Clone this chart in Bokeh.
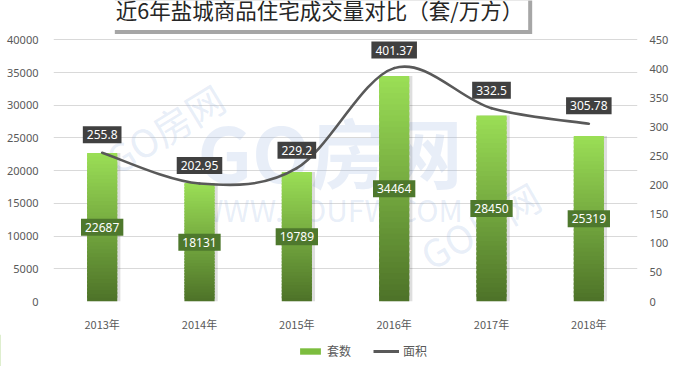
import numpy as np
from bokeh.plotting import figure
from bokeh.layouts import column
from bokeh.models import (Range1d, LinearAxis, FixedTicker, Label, Legend,
                          LegendItem, ColumnDataSource)
from bokeh.core.properties import value
from bokeh.embed import file_html
from bokeh.resources import INLINE

# ---- data ----
years = ["2013年", "2014年", "2015年", "2016年", "2017年", "2018年"]
units = [22687, 18131, 19789, 34464, 28450, 25319]          # 套数
area = [255.8, 202.95, 229.2, 401.37, 332.5, 305.78]         # 面积 (万方)
left_ticks = [0, 5000, 10000, 15000, 20000, 25000, 30000, 35000, 40000]
right_ticks = [0, 50, 100, 150, 200, 250, 300, 350, 400, 450]
title_text = "近6年盐城商品住宅成交量对比（套/万方）"
series_names = ["套数", "面积"]

n = len(years)
xc = np.arange(n) + 0.5

W = 680
H1 = 334               # main chart
H2 = 32                # legend strip
FRAME_H = 306          # frame runs from the very top down to the zero line
AXIS_H = 266           # pixel height of the 0..40000 span
ext_f = FRAME_H / AXIS_H

p = figure(width=W, height=H1, output_backend="svg", toolbar_location=None,
           x_range=Range1d(0, n),
           y_range=Range1d(0, left_ticks[-1] * ext_f),
           min_border_left=53, min_border_right=43, min_border_top=0,
           min_border_bottom=H1 - FRAME_H, background_fill_color="white",
           border_fill_color="white")
p.outline_line_color = None
p.extra_y_ranges = {"area": Range1d(0, right_ticks[-1] * ext_f)}

# axes
p.xaxis.ticker = FixedTicker(ticks=list(xc))
p.xaxis.major_label_overrides = {float(x): y for x, y in zip(xc, years)}
p.yaxis.ticker = FixedTicker(ticks=left_ticks)
raxis = LinearAxis(y_range_name="area", ticker=FixedTicker(ticks=right_ticks))
p.add_layout(raxis, "right")
for ax in p.axis:
    ax.axis_line_color = None
    ax.major_tick_line_color = None
    ax.minor_tick_line_color = None
    ax.major_label_text_color = "#595959"
    ax.major_label_text_font_size = "11px"
    ax.major_label_text_font = "Noto Sans"
p.xaxis.major_label_text_font = "Noto Sans CJK SC"
p.xaxis.major_label_standoff = 8
p.yaxis[0].major_label_standoff = 9
raxis.major_label_standoff = 6

p.xgrid.grid_line_color = None
p.ygrid.grid_line_color = "#d9d9d9"
p.ygrid.ticker = FixedTicker(ticks=left_ticks)

# watermark
wm = dict(text_align="center", text_baseline="middle", text_color="#9db8e0",
          text_alpha=0.24, text_font=value("Noto Sans CJK SC"))
p.text(x=[2.84], y=[23200], text=["GO房网"], text_font_size="76px",
       text_font_style="bold", **wm)
p.text(x=[2.84], y=[14100], text=["WWW.GOUFW.COM"], text_font_size="30px", **wm)
p.text(x=[1.14], y=[26500], text=["GO房网"], text_font_size="38px",
       angle=0.55, **wm)
p.text(x=[4.38], y=[11700], text=["GO房网"], text_font_size="38px",
       angle=0.52, **wm)

# bar shadows
bw = 0.31
p.vbar(x=xc + 0.032, bottom=0, top=units, width=bw, fill_color="#000000",
       fill_alpha=0.13, line_color=None)

# gradient bars built from overlapping slices
N = 40
light = np.array([0x9b, 0xdf, 0x56])
dark = np.array([0x4d, 0x72, 0x28])
bx, bb, bt, bc = [], [], [], []
for i, v in enumerate(units):
    for k in range(N):
        t = (k + 0.5) / N
        c = dark + (light - dark) * t
        bx.append(float(xc[i]))
        bb.append(v * k / N)
        bt.append(min(v, v * (k + 1.6) / N))
        bc.append("#%02x%02x%02x" % tuple(int(round(q)) for q in c))
p.vbar(x=bx, bottom=bb, top=bt, width=bw, fill_color=bc, line_color=None)

# smoothed line (Catmull-Rom bezier through the data points)
P = np.column_stack([xc, np.array(area, dtype=float)])
ext = np.vstack([P[0], P, P[-1]])
seg = dict(x0=[], y0=[], x1=[], y1=[], cx0=[], cy0=[], cx1=[], cy1=[])
for i in range(n - 1):
    p0, p1, p2, p3 = ext[i], ext[i + 1], ext[i + 2], ext[i + 3]
    c0 = p1 + (p2 - p0) / 6.0
    c1 = p2 - (p3 - p1) / 6.0
    seg["x0"].append(p1[0]); seg["y0"].append(p1[1])
    seg["x1"].append(p2[0]); seg["y1"].append(p2[1])
    seg["cx0"].append(c0[0]); seg["cy0"].append(c0[1])
    seg["cx1"].append(c1[0]); seg["cy1"].append(c1[1])
p.bezier(source=ColumnDataSource(seg), x0="x0", y0="y0", x1="x1", y1="y1",
         cx0="cx0", cy0="cy0", cx1="cx1", cy1="cy1", y_range_name="area",
         line_color="#595959", line_width=2.6, line_cap="round")

# data labels
src_u = ColumnDataSource(dict(x=list(xc), y=[v / 2 for v in units],
                              t=[str(v) for v in units]))
p.text(x="x", y="y", text="t", source=src_u, text_align="center",
       text_baseline="middle", text_color="white",
       text_font=value("Noto Sans"), text_font_size="12px",
       background_fill_color="#4e782d", padding=4)
src_a = ColumnDataSource(dict(x=list(xc), y=area, t=[str(v) for v in area]))
p.text(x="x", y="y", text="t", source=src_a, y_range_name="area",
       y_offset=-18, text_align="center", text_baseline="middle",
       text_color="white", text_font=value("Noto Sans"),
       text_font_size="12px", background_fill_color="#404040",
       padding=4)

# title box with shadow
tk = dict(text=title_text, x=266, y=FRAME_H - 14, x_units="screen",
          y_units="screen", text_align="center", text_baseline="middle",
          text_font_size="21.5px", text_font="Noto Sans CJK SC", padding=5)
p.add_layout(Label(**tk, x_offset=4, y_offset=-4, text_color="#a6a6a6",
                   background_fill_color="#a6a6a6", background_fill_alpha=1.0))
p.add_layout(Label(**tk, text_color="#262626", background_fill_color="white",
                   background_fill_alpha=1.0))

# legend strip (swatch renderers sit outside the visible range)
lp = figure(width=W, height=H2, output_backend="svg", toolbar_location=None,
            x_range=Range1d(0, 1), y_range=Range1d(0, 1),
            min_border_left=0, min_border_right=0, min_border_top=0,
            min_border_bottom=0, border_fill_color="white",
            background_fill_color="white")
lp.xaxis.visible = False
lp.yaxis.visible = False
lp.xgrid.visible = False
lp.ygrid.visible = False
lp.outline_line_color = None

legend_x = 245            # legend left edge if the two frames stay aligned
try:
    p.frame_align = False
    lp.frame_align = False
    legend_x = 297        # legend strip frame starts at the page edge
except Exception:
    pass

r_lb = lp.vbar(x=[-5.0], top=[1.0], width=0.3, fill_color="#7cbd3e",
               line_color=None)
r_ll = lp.line(x=[-5.0, -4.0], y=[1.0, 1.0], line_color="#595959",
               line_width=3)
legend = Legend(items=[LegendItem(label=series_names[0], renderers=[r_lb]),
                       LegendItem(label=series_names[1], renderers=[r_ll])],
                orientation="horizontal", location=(legend_x, 7),
                label_text_font="Noto Sans CJK SC", label_text_font_size="12px",
                label_text_color="#595959", glyph_width=26, glyph_height=8,
                label_standoff=4, spacing=22, border_line_color=None,
                background_fill_alpha=0, padding=2, margin=0)
lp.add_layout(legend)

open("out.html", "w").write(file_html(column(p, lp), INLINE))
